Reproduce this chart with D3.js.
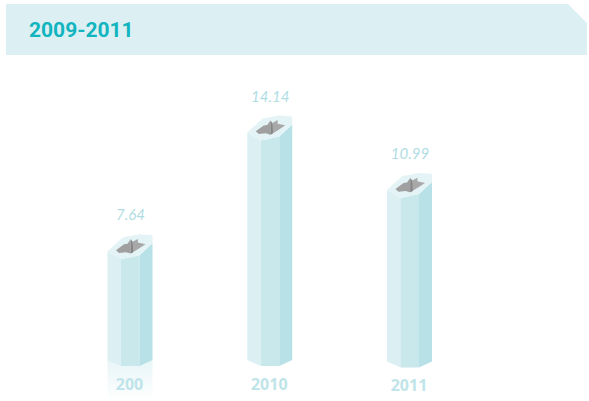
<!DOCTYPE html>
<html>
<head>
<meta charset="utf-8">
<script src="https://cdn.jsdelivr.net/npm/d3@7"></script>
<style>
html, body { margin: 0; padding: 0; background: #fff; }
svg { display: block; }
</style>
</head>
<body>
<svg id="chart" width="589" height="401"></svg>
<script>
var title = "2009-2011";
var categories = ["200", "2010", "2011"];
var values = [7.64, 14.14, 10.99];
var valueLabels = ["7.64", "14.14", "10.99"];

var svg = d3.select("#chart");
var line = d3.line();

// banner with the cut corner
svg.append("path")
	.attr("d", line([[6, 4], [568, 4], [587, 23], [587, 55], [6, 55]]) + "Z")
	.attr("fill", "#dcf0f3");
svg.append("text")
	.attr("x", 29).attr("y", 37)
	.attr("font-family", "Roboto, sans-serif")
	.attr("font-weight", 700)
	.attr("font-size", 21)
	.attr("fill", "#12b5bf")
	.text(title);

var x = d3.scalePoint().domain(categories).range([130, 409.5]);
var y = d3.scaleLinear().domain([0, 14.14]).range([374, 115.5]);
const bottom = 360;

var defs = svg.append("defs");
var fade = defs.append("linearGradient")
	.attr("id", "fade").attr("x1", 0).attr("y1", 0).attr("x2", 0).attr("y2", 1);
fade.append("stop").attr("offset", 0).attr("stop-color", "#c9e8ec").attr("stop-opacity", 0.45);
fade.append("stop").attr("offset", 1).attr("stop-color", "#c9e8ec").attr("stop-opacity", 0);

/* shape of one column, offsets from its centre and its top */
function drawColumn(d, i) {
	var g = d3.select(this);
	var cx = x(d);
	var t = y(values[i]);
	var b = bottom + (i == 2 ? 1.5 : 0);
	var p = function(list, base) {
		return line(list.map(function(o) { return [cx + o[0], base + o[1]]; })) + "Z";
	};

	// only the first one keeps its reflection
	if (i == 0) {
		g.append("rect")
			.attr("x", cx - 22.5).attr("y", b)
			.attr("width", 45).attr("height", 401 - b)
			.attr("fill", "url(#fade)");
	}

	g.append("path").attr("fill", "#dcf0f3")
		.attr("d", line([[cx - 22.5, t + 17], [cx - 9, t + 25], [cx - 9, b + 6], [cx - 22.5, b]]) + "Z");
	g.append("path").attr("fill", "#c9e8ec")
		.attr("d", line([[cx - 9, t + 25], [cx + 9.5, t + 21], [cx + 9.5, b + 6], [cx - 9, b + 6]]) + "Z");
	g.append("path").attr("fill", "#b7e1e6")
		.attr("d", line([[cx + 9.5, t + 21], [cx + 22.5, t + 9], [cx + 22.5, b], [cx + 9.5, b + 6]]) + "Z");

	// top cap
	g.append("path").attr("fill", "#e3f3f6")
		.attr("d", p([[-22.5, 17], [-7, 3], [9.5, 0], [22.5, 1], [22.5, 9], [9.5, 21], [-9, 25]], t));

	// grey notch
	g.append("path").attr("fill", "#a0a0a0")
		.attr("d", p([[-14, 15.8], [-6, 10], [-2.5, 9.5], [0.7, 5], [0.7, 19.2], [-4, 17.8], [-11, 18.6]], t));
	g.append("path").attr("fill", "#a8a8a8")
		.attr("d", p([[2.7, 7.5], [8, 4.6], [7.8, 8.2], [15.5, 9.8], [8.6, 14.5], [0.7, 19.2]], t));
	g.append("path").attr("fill", "#858585")
		.attr("d", p([[0.7, 5], [2.7, 7.5], [3.2, 17.8], [0.7, 19.2]], t));

	g.append("text")
		.attr("x", cx + 0.5).attr("y", t - 14)
		.attr("text-anchor", "middle")
		.attr("font-family", "Lato, sans-serif")
		.attr("font-style", "italic")
		.attr("font-weight", 400)
		.attr("font-size", 15)
		.attr("fill", "#b0dde4")
		.text(valueLabels[i]);

	g.append("text")
		.attr("x", cx - 0.5).attr("y", 390 + (i == 2 ? 1 : 0))
		.attr("text-anchor", "middle")
		.attr("font-family", "'Open Sans', sans-serif")
		.attr("font-weight", 700)
		.attr("font-size", 16)
		.attr("fill", "#bfe4e9")
		.text(d);
}

svg.selectAll("g.col")
	.data(categories)
	.enter().append("g")
	.attr("class", "col")
	.each(drawColumn);
</script>
</body>
</html>
